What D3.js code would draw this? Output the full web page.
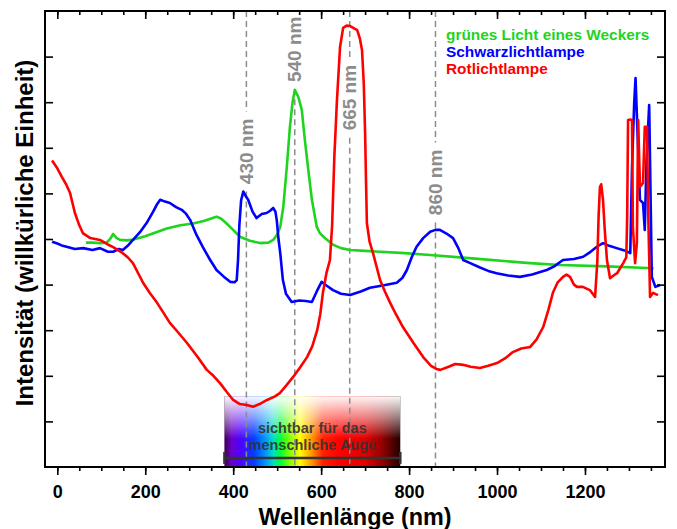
<!DOCTYPE html>
<html><head><meta charset="utf-8">
<script src="https://cdn.jsdelivr.net/npm/d3@7"></script>
<style>
body{margin:0;background:#fff}
svg{display:block}
text{font-family:"Liberation Sans",Arial,Helvetica,sans-serif;font-weight:bold}
</style>
</head><body>
<svg id="c" width="677" height="529"></svg>
<script>
// ---- data ----
const seriesNames = ["grünes Licht eines Weckers", "Schwarzlichtlampe", "Rotlichtlampe"];
const seriesColors = ["#1fd41f", "#0000ff", "#ff0000"];

const greenSpectrum = [[65,4.92],[80,4.92],[97,4.91],[112,4.92],[120,5.0],[127,5.11],[135,5.02],[143,4.98],[158,4.97],[173,4.99],[200,5.06],[225,5.15],[249,5.23],[280,5.3],[309,5.34],[335,5.4],[350,5.45],[362,5.49],[372,5.45],[385,5.34],[400,5.2],[415,5.05],[438,4.96],[461,4.91],[480,4.92],[491,4.98],[500,5.1],[507,5.27],[514,5.71],[522,6.59],[529,7.46],[535,8.0],[540,8.27],[548,8.12],[556,7.83],[563,7.17],[571,6.5],[579,5.86],[590,5.27],[597,5.13],[605,5.05],[628,4.87],[645,4.8],[666,4.76],[700,4.74],[734,4.72],[790,4.69],[848,4.65],[950,4.57],[1075,4.47],[1143,4.43],[1250,4.4],[1356,4.36]];

const blueSpectrum = [[-12,4.94],[0,4.9],[10,4.86],[21,4.83],[40,4.78],[59,4.8],[80,4.76],[97,4.8],[115,4.72],[127,4.72],[140,4.78],[149,4.76],[160,4.85],[172,4.98],[188,5.15],[203,5.35],[218,5.6],[226,5.75],[234,5.86],[245,5.82],[256,5.79],[270,5.7],[283,5.64],[293,5.55],[302,5.42],[316,5.1],[331,4.82],[347,4.55],[362,4.32],[378,4.18],[393,4.06],[403,4.05],[408,4.10],[411,4.54],[414,5.3],[418,5.85],[423,6.04],[428,5.95],[434,5.86],[444,5.6],[453,5.46],[465,5.55],[476,5.57],[484,5.62],[491,5.68],[496,5.6],[499,5.42],[503,5.0],[507,4.69],[513,4.10],[520,3.8],[533,3.62],[550,3.65],[565,3.64],[579,3.62],[590,3.85],[601,4.06],[612,3.98],[627,3.88],[645,3.8],[666,3.77],[690,3.85],[711,3.93],[740,3.98],[772,4.04],[785,4.15],[795,4.32],[806,4.6],[817,4.83],[832,5.02],[848,5.16],[860,5.2],[870,5.2],[885,5.12],[900,5.02],[912,4.8],[923,4.54],[939,4.47],[960,4.38],[980,4.3],[999,4.25],[1025,4.2],[1052,4.17],[1080,4.22],[1100,4.28],[1113,4.32],[1130,4.4],[1150,4.54],[1175,4.56],[1196,4.61],[1210,4.7],[1227,4.83],[1241,4.91],[1255,4.85],[1272,4.80],[1290,4.75],[1303,4.69],[1307,6.58],[1312,8.0],[1315,8.53],[1319,7.46],[1325,5.86],[1332,5.79],[1336,5.2],[1340,6.73],[1346,7.94],[1352,4.17],[1360,3.95],[1371,3.99]];

const redSpectrum = [[-12,6.72],[0,6.55],[10,6.37],[20,6.2],[29,6.01],[40,5.57],[50,5.3],[58,5.13],[75,5.02],[97,4.98],[115,4.88],[127,4.82],[149,4.69],[160,4.6],[172,4.47],[195,4.04],[210,3.82],[227,3.6],[256,3.16],[275,2.95],[295,2.72],[320,2.4],[340,2.13],[355,2.0],[370,1.84],[385,1.65],[400,1.47],[415,1.38],[431,1.36],[445,1.32],[460,1.38],[477,1.47],[495,1.55],[506,1.62],[520,1.78],[536,1.97],[552,2.18],[568,2.41],[580,2.65],[591,3.0],[598,3.35],[604,3.82],[612,4.25],[620,4.54],[625,5.3],[630,6.8],[636,8.05],[643,9.21],[650,9.63],[658,9.68],[666,9.67],[675,9.62],[682,9.58],[688,9.4],[693,9.14],[697,8.4],[700,7.32],[702,6.3],[704,5.35],[710,4.95],[718,4.69],[734,4.10],[745,3.85],[757,3.6],[770,3.35],[786,3.07],[810,2.72],[832,2.41],[850,2.22],[862,2.15],[871,2.13],[890,2.2],[905,2.26],[923,2.24],[940,2.2],[961,2.17],[980,2.22],[1000,2.28],[1018,2.38],[1036,2.52],[1055,2.6],[1075,2.63],[1090,2.8],[1105,3.07],[1117,3.45],[1127,3.82],[1138,4.05],[1150,4.17],[1158,4.22],[1166,4.17],[1175,4.0],[1182,3.95],[1195,3.95],[1211,3.88],[1223,3.73],[1228,4.5],[1231,5.5],[1234,6.14],[1237,6.2],[1241,5.86],[1245,5.2],[1250,4.54],[1257,4.14],[1265,4.2],[1273,4.25],[1287,4.47],[1294,4.6],[1296,5.5],[1298,7.61],[1303,7.62],[1307,7.61],[1309,5.26],[1314,4.47],[1318,4.91],[1321,7.61],[1325,6.14],[1332,6.23],[1336,7.46],[1341,7.46],[1344,5.5],[1348,3.73],[1355,3.82],[1366,3.77]];

const markerNm = [430, 540, 665, 860];
const markerLabels = ["430 nm", "540 nm", "665 nm", "860 nm"];
const markerLabelY = [6.92, 9.16, 8.10, 6.24];   // label centre (intensity units)

const xMajorTicks = [0, 200, 400, 600, 800, 1000, 1200];
const xMinorTicks = d3.range(0, 1400, 50);
const yTicks = [1,2,3,4,5,6,7,8,9];

const visibleRange = [380, 780];
const visibleText = ["sichtbar für das", "menschliche Auge"];
const spectrumStops = [[0,"#3a0050"],[0.04,"#6a00c8"],[0.09,"#5000ff"],[0.17,"#0040ff"],[0.23,"#0090ff"],[0.28,"#00e0c0"],[0.32,"#00ff30"],[0.37,"#80ff00"],[0.43,"#ffff00"],[0.5,"#ff9000"],[0.56,"#ff2000"],[0.65,"#ff0000"],[0.8,"#e00000"],[0.9,"#900000"],[1.0,"#200000"]];

// ---- layout ----
const L = 45, T = 11, R = 665, B = 467;
const svg = d3.select("#c");
const x = d3.scaleLinear().domain([-28, 1382]).range([L, R]);
const y = d3.scaleLinear().domain([0, 10]).range([B, T]);

const defs = svg.append("defs");
const hg = defs.append("linearGradient").attr("id","spec").attr("x1","0").attr("x2","1").attr("y1","0").attr("y2","0");
spectrumStops.forEach(s => hg.append("stop").attr("offset", s[0]).attr("stop-color", s[1]));
const vg = defs.append("linearGradient").attr("id","fade").attr("x1","0").attr("x2","0").attr("y1","0").attr("y2","1");
vg.append("stop").attr("offset",0).attr("stop-color","#fff").attr("stop-opacity",0.97);
vg.append("stop").attr("offset",0.3).attr("stop-color","#fff").attr("stop-opacity",0.5);
vg.append("stop").attr("offset",0.6).attr("stop-color","#fff").attr("stop-opacity",0);
defs.append("clipPath").attr("id","plot").append("rect").attr("x",L).attr("y",T).attr("width",R-L).attr("height",B-T);

// visible spectrum box
const boxTop = 1.55;
svg.append("rect").attr("x", x(visibleRange[0])).attr("y", y(boxTop))
  .attr("width", x(visibleRange[1]) - x(visibleRange[0])).attr("height", y(0) - y(boxTop))
  .attr("fill","url(#spec)");
svg.append("rect").attr("x", x(visibleRange[0])).attr("y", y(boxTop))
  .attr("width", x(visibleRange[1]) - x(visibleRange[0])).attr("height", y(0) - y(boxTop))
  .attr("fill","url(#fade)");

// marker dashed lines with gaps for the labels
const labelHalf = 40;
markerNm.forEach((nm, i) => {
  const cy = y(markerLabelY[i]);
  const segs = [[T, cy - labelHalf], [cy + labelHalf, B]];
  segs.forEach(sg => {
    if (sg[1] > sg[0]) svg.append("line").attr("x1", x(nm)).attr("x2", x(nm)).attr("y1", sg[0]).attr("y2", sg[1])
      .attr("stroke","#8c8c8c").attr("stroke-width",1.5).attr("stroke-dasharray","6,4");
  });
  svg.append("text").attr("transform", `translate(${x(nm)},${cy}) rotate(-90)`)
    .attr("text-anchor","middle").attr("dy","0.35em").attr("font-size",19).attr("fill","#8c8c8c")
    .text(markerLabels[i]);
});

// visible text + bar
const vx = (x(visibleRange[0]) + x(visibleRange[1])) / 2;
visibleText.forEach((t, i) => {
  svg.append("text").attr("x", vx).attr("y", y(0.74) + i * 17).attr("text-anchor","middle")
    .attr("font-size",14.5).attr("fill","#333").attr("fill-opacity",0.92).text(t);
});
const barY = y(0.2);
svg.append("line").attr("x1", x(visibleRange[0])).attr("x2", x(visibleRange[1])).attr("y1", barY).attr("y2", barY)
  .attr("stroke","#333").attr("stroke-width",2.5);
visibleRange.forEach(v => svg.append("line").attr("x1", x(v)).attr("x2", x(v)).attr("y1", barY-6).attr("y2", barY+6)
  .attr("stroke","#333").attr("stroke-width",2.5));

// curves
const line = d3.line().x(d => x(d[0])).y(d => y(d[1]));
const curveData = [greenSpectrum, blueSpectrum, redSpectrum];
const g = svg.append("g").attr("clip-path","url(#plot)");
curveData.forEach((data, i) => {
  g.append("path").datum(data).attr("d", line).attr("fill","none")
    .attr("stroke", seriesColors[i]).attr("stroke-width",2.6).attr("stroke-linejoin","round");
});

// axes
function strip(sel){ sel.select(".domain").remove(); sel.selectAll("text").remove(); }
svg.append("g").attr("transform",`translate(0,${B})`).call(d3.axisBottom(x).tickValues(xMinorTicks).tickSize(4).tickFormat("")).call(strip)
  .selectAll("line").attr("stroke","#000").attr("stroke-width",1.6);
const xb = svg.append("g").attr("transform",`translate(0,${B})`).call(d3.axisBottom(x).tickValues(xMajorTicks).tickSize(8).tickFormat(d3.format("d")));
xb.select(".domain").remove();
xb.selectAll("line").attr("stroke","#000").attr("stroke-width",1.6);
xb.selectAll("text").attr("font-size",18).attr("fill","#000").attr("font-family",null).attr("dy",null).attr("y",31);

svg.append("g").attr("transform",`translate(0,${T})`).call(d3.axisBottom(x).tickValues(xMinorTicks).tickSize(4).tickFormat("")).call(strip)
  .selectAll("line").attr("stroke","#000").attr("stroke-width",1.6);
svg.append("g").attr("transform",`translate(0,${T})`).call(d3.axisBottom(x).tickValues(xMajorTicks).tickSize(8).tickFormat("")).call(strip)
  .selectAll("line").attr("stroke","#000").attr("stroke-width",1.6);
svg.append("g").attr("transform",`translate(${L},0)`).call(d3.axisRight(y).tickValues(yTicks).tickSize(8).tickFormat("")).call(strip)
  .selectAll("line").attr("stroke","#000").attr("stroke-width",1.6);
svg.append("g").attr("transform",`translate(${R},0)`).call(d3.axisLeft(y).tickValues(yTicks).tickSize(8).tickFormat("")).call(strip)
  .selectAll("line").attr("stroke","#000").attr("stroke-width",1.6);

svg.append("rect").attr("x",L).attr("y",T).attr("width",R-L).attr("height",B-T)
  .attr("fill","none").attr("stroke","#000").attr("stroke-width",2);

// titles
svg.append("text").attr("x", 355).attr("y", 525).attr("text-anchor","middle").attr("font-size",23.4).attr("fill","#000").text("Wellenlänge (nm)");
svg.append("text").attr("transform","translate(33,233) rotate(-90)").attr("text-anchor","middle").attr("font-size",24).attr("fill","#000").text("Intensität (willkürliche Einheit)");

// legend
seriesNames.forEach((n, i) => {
  svg.append("text").attr("x", 446).attr("y", 40 + i * 17).attr("font-size",15.4).attr("fill", seriesColors[i]).text(n);
});
</script>
</body></html>
